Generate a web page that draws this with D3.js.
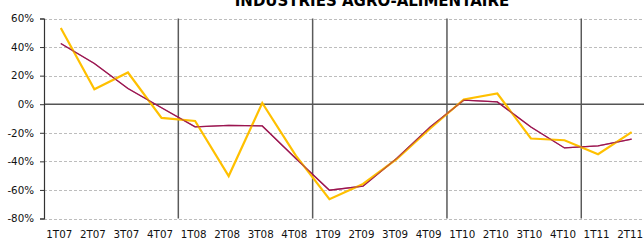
<!DOCTYPE html>
<html><head><meta charset="utf-8">
<script src="https://cdn.jsdelivr.net/npm/d3@7/dist/d3.min.js"></script>
<style>html,body{margin:0;padding:0;background:#fff;overflow:hidden}svg{display:block}</style>
</head><body>
<svg id="c" width="644" height="240"></svg>
<script>
const title = "INDUSTRIES AGRO-ALIMENTAIRE";
const categories = ["1T07","2T07","3T07","4T07","1T08","2T08","3T08","4T08","1T09","2T09","3T09","4T09","1T10","2T10","3T10","4T10","1T11","2T11"];
const seriesOrange = [53.4,10.5,22.2,-9.6,-11.7,-50.3,0.9,-36,-66.5,-55.8,-38.5,-17,3.3,7.5,-24,-25.2,-35,-19.5];
const seriesRed = [42.5,28.5,11,-2.5,-15.9,-14.8,-15.2,-38,-60.2,-57.4,-38,-16,2.8,1.6,-16,-30.6,-29.2,-24.4];
const yTicks = [60,40,20,0,-20,-40,-60,-80];
const yearBreaks = ["1T08","1T09","1T10","1T11"];

const svg = d3.select("#c");
const mLeft = 44, mTop = 18.5, mBottom = 218.5, step = 33.58;
const x = d3.scaleBand().domain(categories).range([mLeft, mLeft + step*categories.length]).paddingInner(0).paddingOuter(0);
const y = d3.scaleLinear().domain([-80,60]).range([mBottom, mTop]);
const cx = c => x(c) + x.bandwidth()/2;

// gridlines
svg.append("g").selectAll("line").data(yTicks.filter(t=>t!==0)).join("line")
  .attr("x1", mLeft).attr("x2", 644).attr("y1", d=>Math.round(y(d))+0.5).attr("y2", d=>Math.round(y(d))+0.5)
  .attr("stroke", "#bdbdbd").attr("stroke-width", 1).attr("stroke-dasharray", "3,2");

// vertical year separators
svg.append("g").selectAll("line").data(yearBreaks).join("line")
  .attr("x1", d=>x(d)).attr("x2", d=>x(d)).attr("y1", mTop).attr("y2", mBottom)
  .attr("stroke", "#5a5a5a").attr("stroke-width", 1.5);

// zero line
svg.append("line").attr("x1", mLeft).attr("x2", 644).attr("y1", y(0)).attr("y2", y(0))
  .attr("stroke", "#555").attr("stroke-width", 1.5);

// y axis
const yAxis = d3.axisLeft(y).tickValues(yTicks).tickSize(4).tickFormat(d=>d+"%");
const gy = svg.append("g").attr("transform", `translate(${mLeft},0)`).call(yAxis);
gy.select(".domain").attr("stroke", "#333").attr("stroke-width", 1.2);
gy.selectAll(".tick line").attr("stroke", "#333");
gy.selectAll(".tick text").attr("font-family", "DejaVu Sans").attr("font-size", "10.3px").attr("fill", "#111").attr("x", -10);

// x labels
svg.append("g").selectAll("text").data(categories).join("text")
  .attr("x", d=>cx(d) - 1.5).attr("y", 238).attr("text-anchor", "middle")
  .attr("font-family", "DejaVu Sans").attr("font-size", "10.3px").attr("fill", "#111").text(d=>d);

// lines
const line = d3.line().x((d,i)=>cx(categories[i])).y(d=>y(d));
svg.append("path").datum(seriesRed).attr("d", line).attr("fill","none").attr("stroke","#9b1550").attr("stroke-width",1.3);
svg.append("path").datum(seriesOrange).attr("d", line).attr("fill","none").attr("stroke","#ffc000").attr("stroke-width",2.2).attr("stroke-linejoin","miter");
svg.append("path").datum(seriesRed).attr("d", line).attr("fill","none").attr("stroke","#9b1550").attr("stroke-width",1.3).attr("stroke-opacity",0.6);

// title
svg.append("text").attr("x", 372).attr("y", 6).attr("text-anchor","middle")
  .attr("font-family","DejaVu Sans").attr("font-weight","bold").attr("font-size","15px").attr("fill","#000").text(title);
</script>
</body></html>
